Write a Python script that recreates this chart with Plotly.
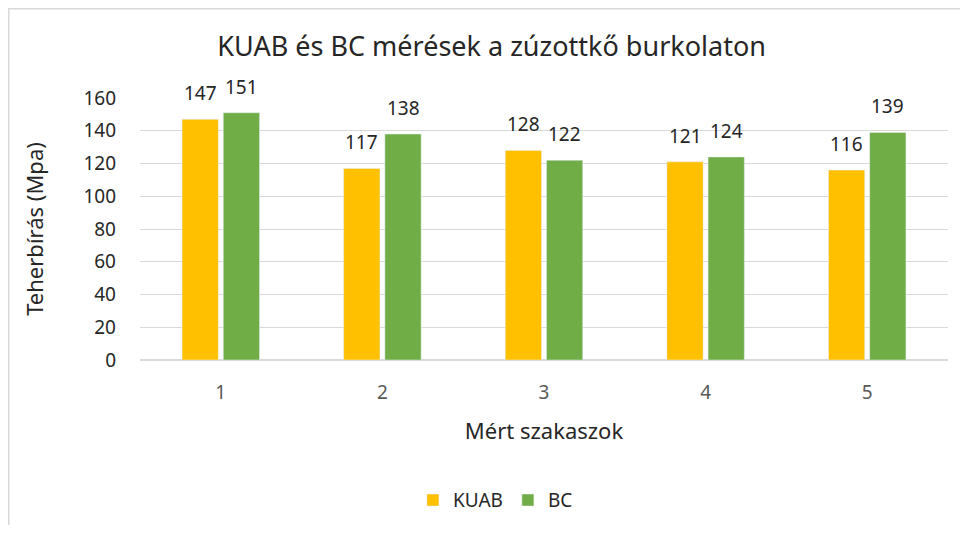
import plotly.graph_objects as go

# Data
szakaszok = ['1', '2', '3', '4', '5']
kuab = [147, 117, 128, 121, 116]
bc = [151, 138, 122, 124, 139]

font_family = 'Noto Sans, Open Sans, sans-serif'
bargap = 0.49
slot = (1 - bargap) / 2

data = []
data.append(go.Bar(x=szakaszok, y=kuab, name='KUAB', marker_color='#FFC000'))
data.append(go.Bar(x=szakaszok, y=bc, name='BC', marker_color='#70AD47'))

# value labels above the bars (centre of each bar slot in the group)
annotations = []
for i in range(len(szakaszok)):
    for shift, vals in ((-slot / 2, kuab), (slot / 2, bc)):
        annotations.append(dict(x=i + shift, y=vals[i], xref='x', yref='y',
                                text=str(vals[i]), showarrow=False,
                                yanchor='middle', yshift=26,
                                font=dict(size=19, color='#262626')))

layout = {
    'title': {'text': 'KUAB és BC mérések a zúzottkő burkolaton',
              'x': 0.508, 'xref': 'container', 'y': 0.9246, 'yref': 'container',
              'xanchor': 'center', 'yanchor': 'middle',
              'font': {'size': 27, 'color': '#262626'}},
    'font': {'family': font_family},
    'width': 952, 'height': 517,
    'margin': {'l': 132, 'r': 12, 't': 90, 'b': 165},
    'plot_bgcolor': 'white', 'paper_bgcolor': 'white',
    'barmode': 'group', 'bargap': bargap, 'bargroupgap': 0.12,
    'xaxis': {'title': {'text': 'Mért szakaszok', 'font': {'size': 22, 'color': '#262626'},
                        'standoff': 19},
              'tickfont': {'size': 19, 'color': '#595959'},
              'showline': False, 'ticks': '', 'ticklabelstandoff': 19},
    'yaxis': {'title': {'text': 'Teherbírás (Mpa)', 'font': {'size': 22, 'color': '#262626'},
                        'standoff': 33},
              'range': [0, 160], 'dtick': 20,
              'tickfont': {'size': 19, 'color': '#262626'},
              'showgrid': True, 'gridcolor': '#D9D9D9', 'gridwidth': 1,
              'zeroline': True, 'zerolinecolor': '#D9D9D9', 'zerolinewidth': 1.5,
              'ticks': '', 'ticklabelstandoff': 23},
    'legend': {'orientation': 'h', 'xref': 'container', 'yref': 'container',
               'x': 0.512, 'xanchor': 'center', 'y': 0.048, 'yanchor': 'middle',
               'font': {'size': 19, 'color': '#262626'}, 'itemwidth': 30},
    'annotations': annotations,
    'shapes': [{'type': 'rect', 'xref': 'paper', 'yref': 'paper',
                'x0': -0.1624, 'x1': 1.1, 'y0': -1, 'y1': 1.3406,
                'line': {'color': '#D9D9D9', 'width': 1.5}, 'layer': 'below'}],
}

fig = go.Figure(data=data, layout=layout)
fig.write_html('out.html')
